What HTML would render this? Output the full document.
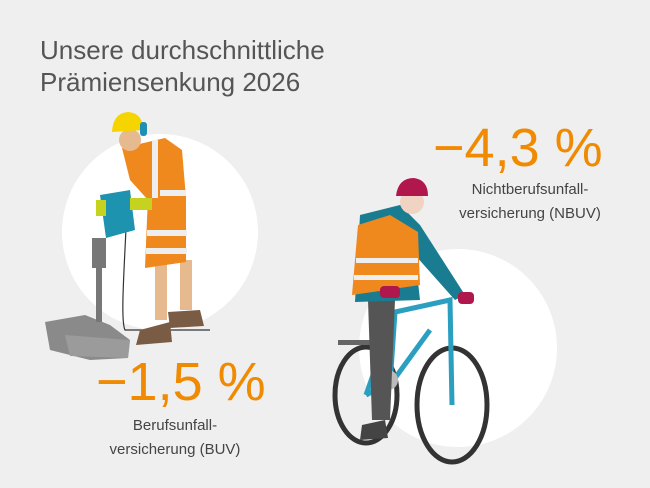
<!DOCTYPE html>
<html><head><meta charset="utf-8"><style>
html,body{margin:0;padding:0;}
body{width:650px;height:488px;background:#efefef;position:relative;overflow:hidden;font-family:"Liberation Sans",sans-serif;}
.t{position:absolute;white-space:nowrap;}
</style></head><body>
<svg width="650" height="488" style="position:absolute;left:0;top:0">
<circle cx="160" cy="232" r="98" fill="#fff"/>
<circle cx="458" cy="348" r="99" fill="#fff"/>
<!-- stones -->
<path d="M45 322 L85 315 L110 325 L130 340 L128 358 L90 360 L50 350 Z" fill="#8a8a8a"/>
<path d="M65 335 L130 340 L128 358 L70 356 Z" fill="#9b9b9b"/>
<!-- cable -->
<path d="M127 205 C125 260 120 320 125 330 L210 330" stroke="#333" stroke-width="1.2" fill="none"/>
<!-- worker legs -->
<rect x="155" y="260" width="12" height="60" fill="#e7b98f"/>
<rect x="180" y="260" width="12" height="50" fill="#e7b98f"/>
<path d="M140 330 L170 322 L172 342 L136 345 Z" fill="#7a5c45"/>
<path d="M168 312 L200 310 L204 326 L170 328 Z" fill="#7a5c45"/>
<!-- shorts -->
<path d="M148 195 L186 192 L186 262 L145 268 Z" fill="#f0891d"/>
<rect x="147" y="230" width="40" height="6" fill="#eee"/>
<rect x="146" y="248" width="41" height="6" fill="#eee"/>
<!-- torso -->
<path d="M122 148 L165 138 L182 150 L186 198 L148 200 L130 180 Z" fill="#f0891d"/>
<rect x="152" y="140" width="6" height="58" fill="#eee"/>
<rect x="160" y="190" width="26" height="6" fill="#eee"/>
<!-- head/helmet -->
<circle cx="130" cy="140" r="11" fill="#e7b98f"/>
<path d="M112 132 Q113 113 128 112 Q143 113 143 130 Z" fill="#f5d400"/>
<rect x="140" y="122" width="7" height="14" rx="3" fill="#1f8fb3"/>
<!-- jackhammer -->
<rect x="96" y="262" width="6" height="60" fill="#777"/>
<rect x="92" y="238" width="14" height="30" fill="#777"/>
<path d="M100 195 L130 190 L135 230 L106 238 Z" fill="#1d93b0"/>
<rect x="96" y="200" width="10" height="16" fill="#c5d21f"/>
<rect x="130" y="198" width="22" height="12" fill="#c5d21f"/>
<!-- bike -->
<ellipse cx="366" cy="395" rx="31" ry="48" fill="none" stroke="#333" stroke-width="5"/>
<ellipse cx="452" cy="405" rx="35" ry="57" fill="none" stroke="#333" stroke-width="5"/>
<path d="M366 395 L395 312 L450 300 L452 405 M395 312 L390 385 L430 330 M385 385 L366 395" stroke="#2a9fc0" stroke-width="5" fill="none"/>
<rect x="338" y="340" width="36" height="5" fill="#666"/>
<circle cx="388" cy="380" r="10" fill="#bbb"/>
<!-- cyclist -->
<path d="M368 300 L395 300 L390 420 L372 420 Z" fill="#555"/>
<path d="M362 425 L385 420 L388 438 L360 440 Z" fill="#444"/>
<path d="M360 215 L400 205 L420 225 L465 295 L455 300 L415 255 L420 300 L355 302 Z" fill="#197c91"/>
<path d="M358 225 L390 215 L418 232 L420 285 L352 295 Z" fill="#f0891d"/>
<rect x="356" y="258" width="62" height="5" fill="#eee"/>
<rect x="354" y="275" width="64" height="5" fill="#eee"/>
<circle cx="412" cy="202" r="12" fill="#f1d3c3"/>
<path d="M396 196 Q398 178 414 178 Q428 180 428 196 Z" fill="#b0174d"/>
<rect x="380" y="286" width="20" height="12" rx="4" fill="#b0174d"/>
<rect x="458" y="292" width="16" height="12" rx="4" fill="#b0174d"/>
</svg>
<div class="t" style="left:40px;top:34px;font-size:26px;line-height:32px;color:#555">Unsere durchschnittliche<br>Prämiensenkung 2026</div>
<div class="t" style="left:433px;top:118px;font-size:54px;line-height:60px;color:#f08a00">−4,3 %</div>
<div class="t" style="left:440px;top:178px;width:180px;text-align:center;font-size:15px;line-height:24px;color:#444">Nichtberufsunfall-<br>versicherung (NBUV)</div>
<div class="t" style="left:96px;top:352px;font-size:54px;line-height:60px;color:#f08a00">−1,5 %</div>
<div class="t" style="left:100px;top:414px;width:150px;text-align:center;font-size:15px;line-height:24px;color:#444">Berufsunfall-<br>versicherung (BUV)</div>
</body></html>
